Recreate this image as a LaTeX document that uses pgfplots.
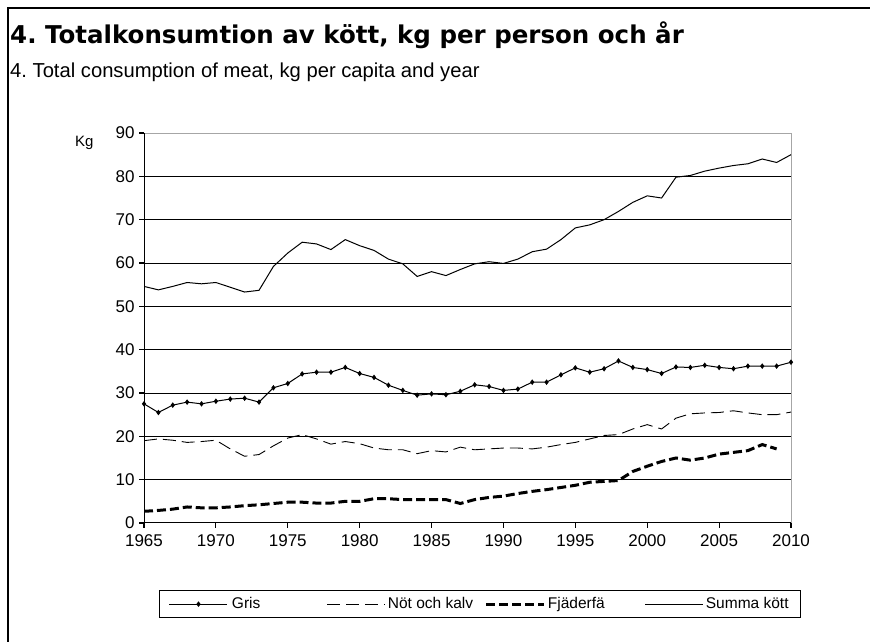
\documentclass[border=0pt]{standalone}
\usepackage{fontspec}
\setmainfont{Liberation Sans}
\newfontfamily\titlefont{DejaVu Sans}
\usepackage{pgfplots}
\pgfplotsset{compat=1.18}
\frenchspacing
\begin{document}
\begin{tikzpicture}[x=1pt,y=1pt]
\useasboundingbox (0,0) rectangle (870,642);
\draw[line width=1.5pt] (8,0) -- (8,634) -- (870,634);
\node[anchor=base west,inner sep=0] at (10,598) {\titlefont\bfseries\fontsize{24.5}{28}\selectfont 4. Totalkonsumtion av kött, kg per person och år};
\node[anchor=base west,inner sep=0] at (10,564) {\fontsize{20.2}{24}\selectfont 4. Total consumption of meat, kg per capita and year};
\node[anchor=base west,inner sep=0] at (75,495) {\fontsize{15}{18}\selectfont Kg};
\begin{axis}[
  at={(144pt,119pt)}, anchor=south west,
  scale only axis, width=647pt, height=390pt,
  xmin=1965, xmax=2010, ymin=0, ymax=90,
  xtick={1965,1970,...,2010}, ytick={0,10,...,90},
  xticklabel style={/pgf/number format/1000 sep={}, yshift=-3pt},
  yticklabel style={xshift=-1pt},
  /pgf/number format/assume math mode=true,
  tick label style={font=\fontsize{17}{20}\selectfont},
  xtick pos=left, ytick pos=left,
  tick align=outside, major tick length=5pt,
  tick style={black, line width=1.2pt},
  axis line style={gray!70, line width=1pt},
  ymajorgrids, major grid style={black, line width=1pt},
  legend style={at={(0.519,-0.208)}, anchor=center, legend columns=4,
    draw=black, line width=0.8pt, font=\fontsize{15.5}{18}\selectfont,
    inner xsep=10pt, inner ysep=5pt},
  legend image code/.code={\draw[mark repeat=2,mark phase=2,#1] plot coordinates {(0pt,0pt) (29pt,0pt) (58pt,0pt)};},
]
\addplot[black, line width=1pt, mark=diamond*, mark size=2pt, mark options={solid}] coordinates {
(1965,27.5)(1966,25.5)(1967,27.2)(1968,27.9)(1969,27.5)(1970,28.1)(1971,28.6)(1972,28.8)(1973,27.9)(1974,31.2)
(1975,32.2)(1976,34.4)(1977,34.8)(1978,34.8)(1979,35.9)(1980,34.5)(1981,33.6)(1982,31.8)(1983,30.6)(1984,29.5)
(1985,29.8)(1986,29.6)(1987,30.4)(1988,31.9)(1989,31.5)(1990,30.6)(1991,30.9)(1992,32.5)(1993,32.5)(1994,34.2)
(1995,35.8)(1996,34.8)(1997,35.6)(1998,37.4)(1999,35.9)(2000,35.4)(2001,34.5)(2002,36.0)(2003,35.9)(2004,36.4)
(2005,35.9)(2006,35.6)(2007,36.2)(2008,36.2)(2009,36.2)(2010,37.1)};
\addlegendentry{\makebox[95pt][l]{\hspace{2pt}Gris}}
\addplot[black, line width=0.9pt, dash pattern=on 13pt off 6pt] coordinates {
(1965,19.0)(1966,19.4)(1967,19.1)(1968,18.6)(1969,18.8)(1970,19.1)(1971,17.1)(1972,15.4)(1973,15.8)(1974,17.8)
(1975,19.6)(1976,20.4)(1977,19.4)(1978,18.2)(1979,18.8)(1980,18.3)(1981,17.3)(1982,16.9)(1983,16.9)(1984,16.0)
(1985,16.7)(1986,16.4)(1987,17.5)(1988,16.9)(1989,17.1)(1990,17.3)(1991,17.3)(1992,17.1)(1993,17.5)(1994,18.1)
(1995,18.6)(1996,19.4)(1997,20.2)(1998,20.4)(1999,21.7)(2000,22.7)(2001,21.7)(2002,24.2)(2003,25.2)(2004,25.4)
(2005,25.5)(2006,25.9)(2007,25.4)(2008,25.0)(2009,25.0)(2010,25.6)};
\addlegendentry{\makebox[95pt][l]{Nöt och kalv}}
\addplot[black, line width=3pt, dash pattern=on 9pt off 4pt] coordinates {
(1965,2.7)(1966,2.9)(1967,3.2)(1968,3.7)(1969,3.5)(1970,3.5)(1971,3.7)(1972,4.0)(1973,4.2)(1974,4.5)
(1975,4.8)(1976,4.8)(1977,4.6)(1978,4.6)(1979,5.0)(1980,5.0)(1981,5.6)(1982,5.6)(1983,5.4)(1984,5.4)
(1985,5.4)(1986,5.4)(1987,4.5)(1988,5.4)(1989,5.9)(1990,6.2)(1991,6.8)(1992,7.3)(1993,7.7)(1994,8.2)
(1995,8.7)(1996,9.4)(1997,9.6)(1998,9.8)(1999,11.9)(2000,13.1)(2001,14.2)(2002,15.0)(2003,14.5)(2004,15.0)
(2005,15.9)(2006,16.3)(2007,16.7)(2008,18.1)(2009,17.1)};
\addlegendentry{\makebox[95pt][l]{Fjäderfä}}
\addplot[black, line width=1pt] coordinates {
(1965,54.6)(1966,53.8)(1967,54.6)(1968,55.5)(1969,55.2)(1970,55.5)(1971,54.4)(1972,53.3)(1973,53.7)(1974,59.2)
(1975,62.3)(1976,64.8)(1977,64.4)(1978,63.1)(1979,65.4)(1980,64.0)(1981,62.9)(1982,60.9)(1983,59.8)(1984,56.9)
(1985,58.0)(1986,57.1)(1987,58.5)(1988,59.8)(1989,60.3)(1990,59.9)(1991,60.9)(1992,62.6)(1993,63.2)(1994,65.4)
(1995,68.1)(1996,68.8)(1997,70.0)(1998,71.9)(1999,74.0)(2000,75.5)(2001,75.0)(2002,79.8)(2003,80.2)(2004,81.2)
(2005,81.9)(2006,82.5)(2007,82.9)(2008,84.0)(2009,83.2)(2010,85.0)};
\addlegendentry{Summa kött}
\draw[black, line width=1.5pt] (rel axis cs:0,1) -- (rel axis cs:0,0) -- (rel axis cs:1,0);
\end{axis}
\end{tikzpicture}
\end{document}
